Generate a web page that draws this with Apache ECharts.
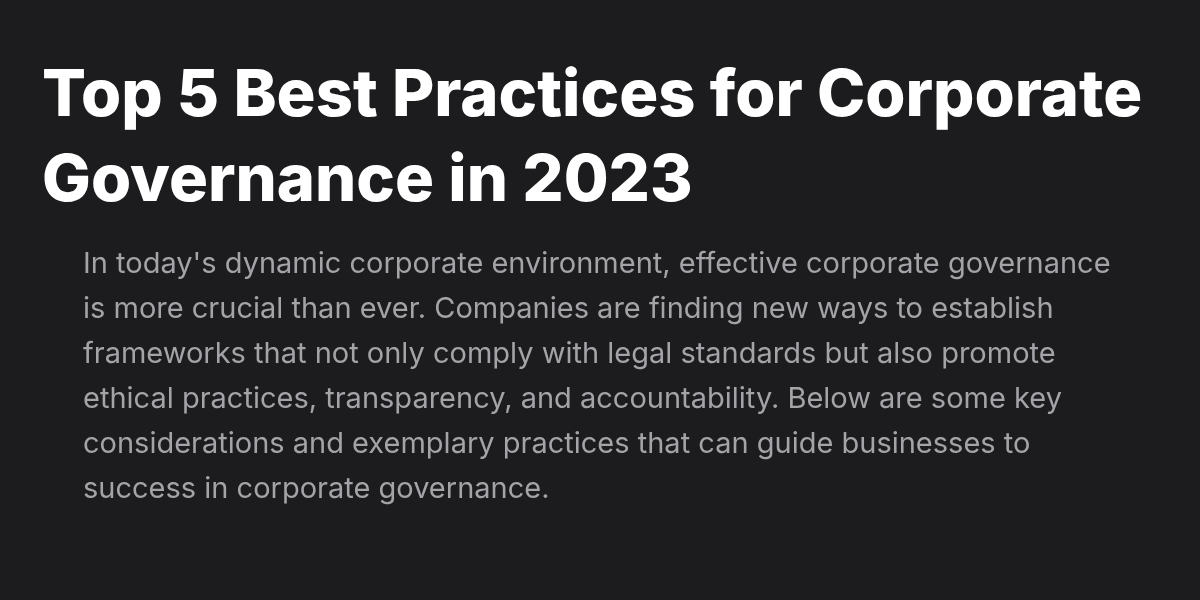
<!DOCTYPE html>
<html lang="en">
<head>
    <meta charset="UTF-8">
    <title>Corporate Governance</title>
    <script src="https://cdn.jsdelivr.net/npm/echarts@6/dist/echarts.min.js"></script>
    <style>
        *{ margin: 0; padding: 0; }
        body{ background: #1c1c1e; overflow: hidden; }
        .container{ width: 1200px; height: 600px; }
    </style>
</head>
<body>
<div class="container"></div>
<script>
    let titleLines = [
        'Top 5 Best Practices for Corporate',
        'Governance in 2023'
    ];
    let bodyLines = [
        "In today's dynamic corporate environment, effective corporate governance",
        'is more crucial than ever. Companies are finding new ways to establish',
        'frameworks that not only comply with legal standards but also promote',
        'ethical practices, transparency, and accountability. Below are some key',
        'considerations and exemplary practices that can guide businesses to',
        'success in corporate governance.'
    ];

    let mycharts = echarts.init(document.querySelector('.container'));

    let graphic = [];
    titleLines.forEach((line, i) => {
        graphic.push({
            type: 'text',
            left: 42,
            top: 64 + i * 85,
            style: {
                text: line,
                fill: '#ffffff',
                font: '800 65px Inter'
            }
        });
    });
    bodyLines.forEach((line, i) => {
        graphic.push({
            type: 'text',
            left: 83,
            top: 250 + i * 45,
            style: {
                text: line,
                fill: '#a3a3a8',
                font: '29px Inter'
            }
        });
    });

    mycharts.setOption({
        backgroundColor: '#1c1c1e',
        graphic
    });
</script>
</body>
</html>
